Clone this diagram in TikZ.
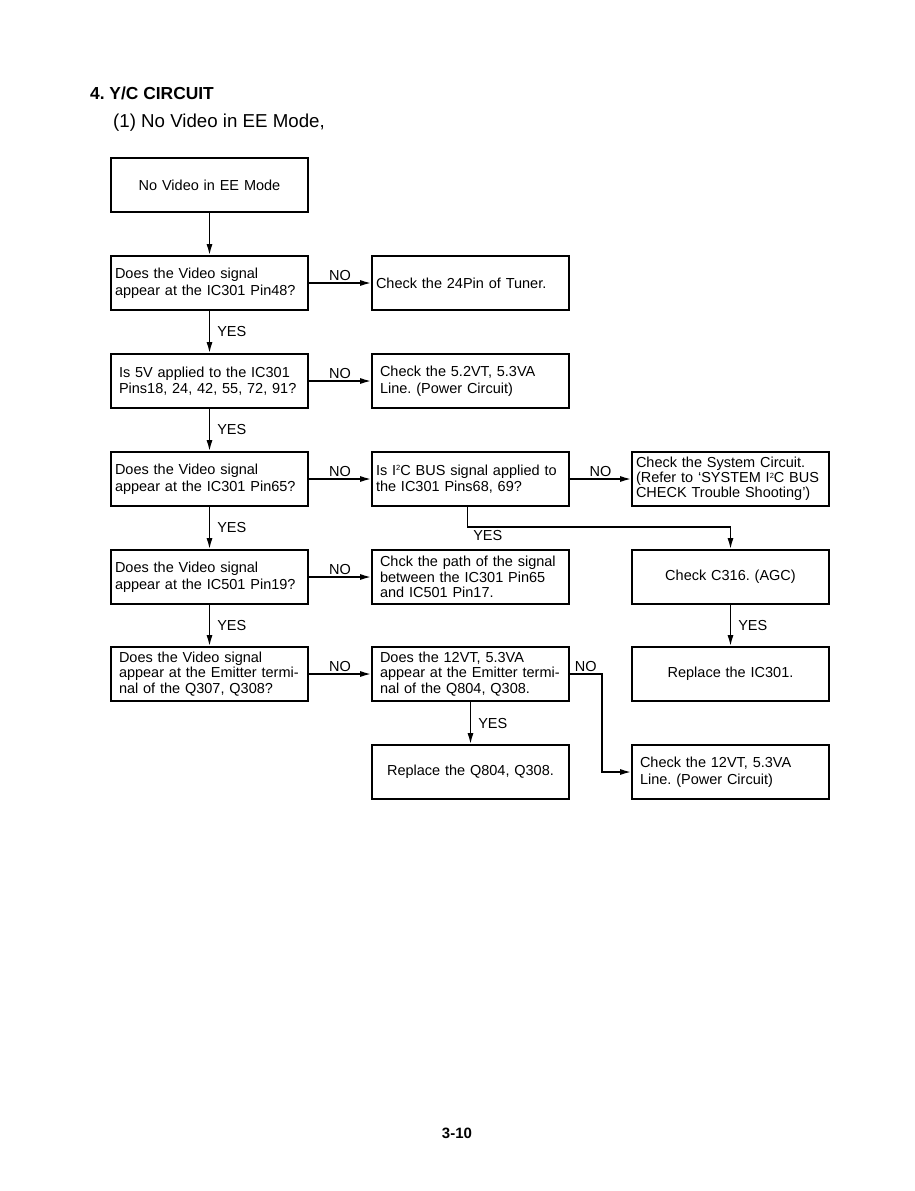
\documentclass[tikz,border=0pt]{standalone}
\usepackage{fontspec}
\setmainfont{Liberation Sans}
\usetikzlibrary{arrows.meta,positioning}
\frenchspacing
\newcommand{\sqtwo}{\raisebox{4.5pt}{\fontsize{7.5}{7.5}\selectfont 2}}

\begin{document}
\begin{tikzpicture}[x=1pt, y=-1pt, >={Latex[length=11pt,width=6pt]}, line width=1.6pt,
  font=\fontsize{14.5}{16.5}\selectfont,
  box/.style={draw, minimum width=197pt, minimum height=54pt, text width=189pt, inner xsep=4pt, align=left},
  boxc/.style={box, align=center},
  wide/.style={inner xsep=8pt, text width=181pt},
  tight/.style={font=\fontsize{14.5}{15.2}\selectfont},
  lbl/.style={inner sep=2pt}]

\useasboundingbox[fill=white] (0,0) rectangle (915,1191);

\node[anchor=west, font=\bfseries\fontsize{17.4}{20}\selectfont] (title) at (86,93) {4. Y/C CIRCUIT};
\node[anchor=west, font=\fontsize{18.7}{21}\selectfont] (sub) at (109,123) {(1) No Video in EE Mode,};

% left column: checks
\node[boxc, line width=2.6pt] (start) at (209.5,185) {No Video in EE Mode};
\node[box] (q1) at (209.5,283) {Does the Video signal\\appear at the IC301 Pin48?};
\node[box, wide] (q2) at (209.5,381) {Is 5V applied to the IC301\\Pins18, 24, 42, 55, 72, 91?};
\node[box] (q3) at (209.5,479) {Does the Video signal\\appear at the IC301 Pin65?};
\node[box] (q4) at (209.5,577) {Does the Video signal\\appear at the IC501 Pin19?};
\node[box, wide, tight] (q5) at (209.5,674) {Does the Video signal\\appear at the Emitter termi-\\nal of the Q307, Q308?};

% middle column
\node[box] (a1) at (470.5,283) {Check the 24Pin of Tuner.};
\node[box, wide] (a2) at (470.5,381) {Check the 5.2VT, 5.3VA\\Line. (Power Circuit)};
\node[box] (c3) at (470.5,479) {Is I\sqtwo C BUS signal applied to\\the IC301 Pins68, 69?};
\node[box, wide, tight] (a4) at (470.5,577) {Chck the path of the signal\\between the IC301 Pin65\\and IC501 Pin17.};
\node[box, wide, tight] (c5) at (470.5,674) {Does the 12VT, 5.3VA\\appear at the Emitter termi-\\nal of the Q804, Q308.};
\node[boxc] (rq) at (470.5,772) {Replace the Q804, Q308.};

% right column
\node[box, tight] (s3) at (730.5,479) {Check the System Circuit.\\(Refer to ‘SYSTEM I\sqtwo C BUS\\CHECK Trouble Shooting’)};
\node[boxc] (agc) at (730.5,577) {Check C316. (AGC)};
\node[boxc] (ic) at (730.5,674) {Replace the IC301.};
\node[box, wide] (pw) at (730.5,772) {Check the 12VT, 5.3VA\\Line. (Power Circuit)};

\draw[->] (start) -- (q1);
\draw[->] (q1) -- node[lbl, right=5pt] (y1) {YES} (q2);
\draw[->] (q2) -- node[lbl, right=5pt] (y2) {YES} (q3);
\draw[->] (q3) -- node[lbl, right=5pt] (y3) {YES} (q4);
\draw[->] (q4) -- node[lbl, right=5pt] (y4) {YES} (q5);

\draw[->] (q1) -- node[lbl, above] (n1) {NO} (a1);
\draw[->] (q2) -- node[lbl, above] (n2) {NO} (a2);
\draw[->] (q3) -- node[lbl, above] (n3) {NO} (c3);
\draw[->] (q4) -- node[lbl, above] (n4) {NO} (a4);
\draw[->] (q5) -- node[lbl, above] (n5) {NO} (c5);

\draw[->] (c3) -- node[lbl, above] (n3b) {NO} (s3);
\draw[->] ([xshift=-3pt]c3.south) -- ++(0,20) node[lbl, below right=1pt and 3pt] (y3b) {YES} -| (agc.north);
\draw[->] (agc) -- node[lbl, right=5pt] (y4b) {YES} (ic);
\draw[->] (c5) -- node[lbl, right=5pt] (y5) {YES} (rq);
\draw[->] (c5.east) -- node[lbl, above] (n5b) {NO} ++(32,0) |- (pw.west);

\node[font=\bfseries\fontsize{15}{18}\selectfont] (page) at (457,1133) {3-10};
\end{tikzpicture}
\end{document}
